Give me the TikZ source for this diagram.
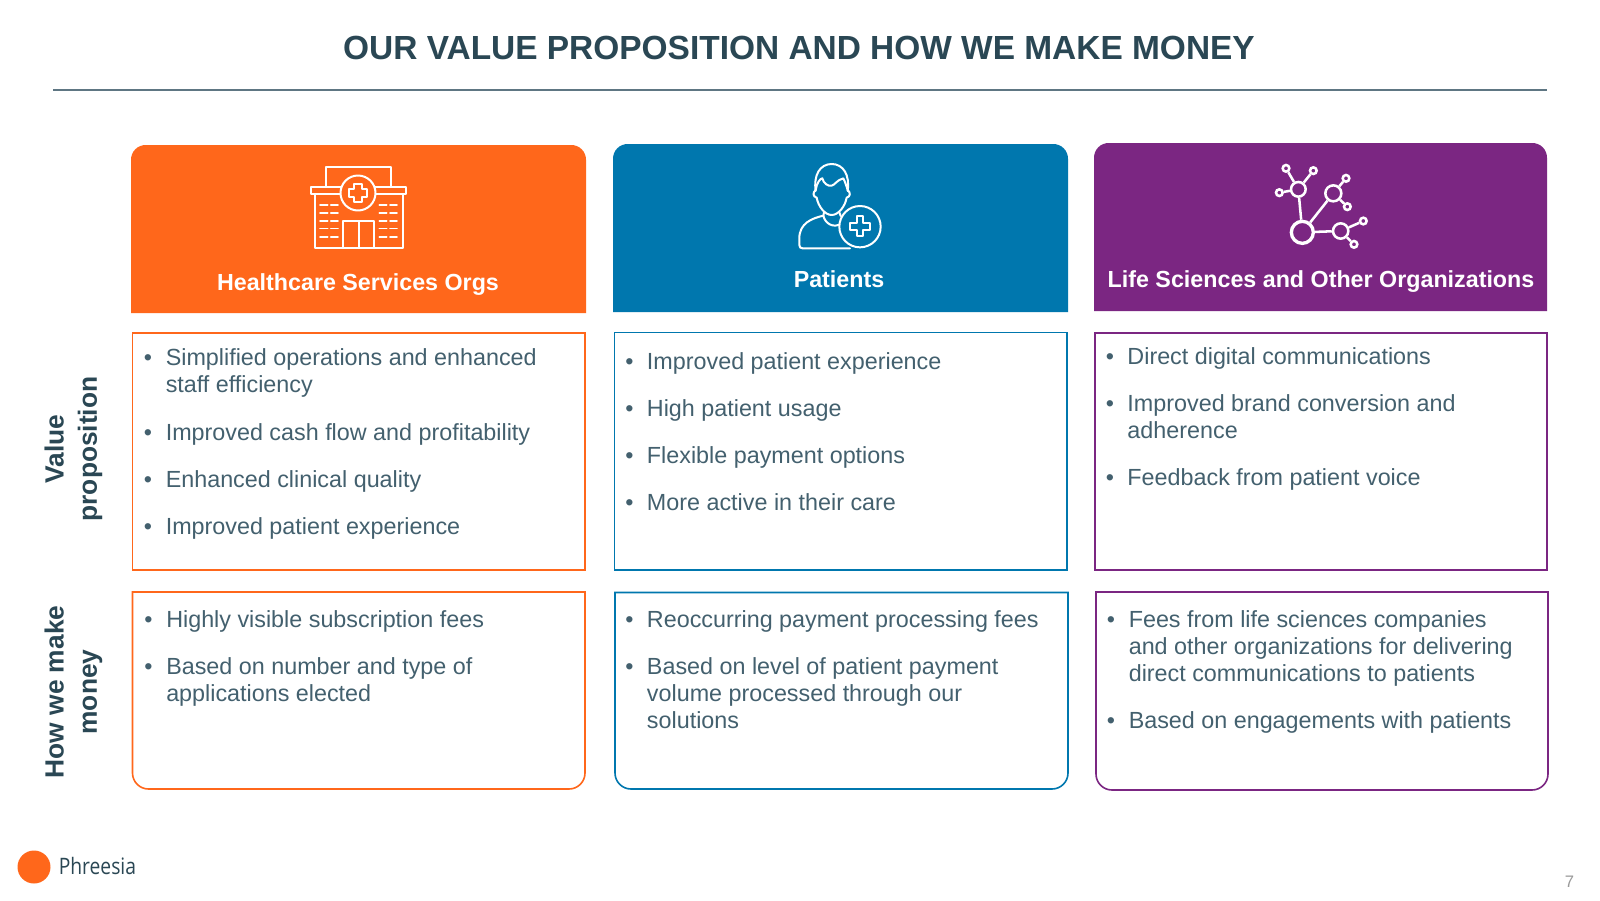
\documentclass[tikz,border=0pt]{standalone}
\usepackage{fontspec}
\setmainfont{Liberation Sans}
\newfontfamily\logofont[FakeStretch=0.85]{Open Sans}
\definecolor{orgc}{HTML}{FF671B}
\definecolor{bluc}{HTML}{0077AE}
\definecolor{purc}{HTML}{7B2682}
\definecolor{txtc}{HTML}{43606E}
\definecolor{ttlc}{HTML}{2A4754}
\definecolor{rulec}{HTML}{5E7683}
\newcommand{\bodyfont}{\fontsize{17.5}{20.25}\selectfont}
\tikzset{
  itemtext/.style={anchor=north west,inner sep=0pt,align=left,text=txtc,font=\bodyfont},
  bulletmark/.style={anchor=north,inner sep=0pt,text=txtc,font=\bodyfont},
  headtext/.style={inner sep=0pt,text=white,font=\fontsize{17.45}{20}\selectfont\bfseries},
  sidetext/.style={inner sep=0pt,rotate=90,align=center,text=ttlc,font=\fontsize{19.75}{25}\selectfont\bfseries},
  panel/.style={line width=1.2pt},
  icon/.style={draw=white,line width=1.5pt,line join=round,line cap=round},
  mol/.style={circle,draw=white,inner sep=0pt,line width=1.9pt},
  bond/.style={draw=white,line width=1.9pt},
}
\newcommand{\entry}[6]{%
  \node[bulletmark] (#1b) at (#2,#4-11) {\strut•};
  \node[itemtext] (#1) at (#3,#4-11) {\strut #5#6};
}
\begin{document}
\begin{tikzpicture}[x=0.75pt,y=-0.75pt]
\useasboundingbox (0,0) rectangle (1600,900);
\fill[white] (0,0) rectangle (1600,900);

\node[inner sep=0pt,text=ttlc,font=\fontsize{25.08}{30}\selectfont\bfseries] (title) at (799,48) {OUR VALUE PROPOSITION AND HOW WE MAKE MONEY};
\coordinate (ruleL) at (53,90);
\coordinate (ruleR) at (1547,90);
\draw[rulec,line width=0.9pt] (ruleL) -- (ruleR);

% headers
\fill[orgc] (131,313) [rounded corners=11pt] -- (131,145) -- (586,145) [sharp corners] -- (586,313) -- cycle;
\fill[bluc] (613,312) [rounded corners=11pt] -- (613,144) -- (1068,144) [sharp corners] -- (1068,312) -- cycle;
\fill[purc] (1094,311) [rounded corners=11pt] -- (1094,143) -- (1547,143) [sharp corners] -- (1547,311) -- cycle;
\node[headtext] (h1) at (358,284.5) {Healthcare Services Orgs};
\node[headtext] (h2) at (839,279.5) {Patients};
\node[headtext] (h3) at (1321,281.5) {Life Sciences and Other Organizations};

% value boxes
\draw[panel,orgc] (132.5,333) rectangle (585,570);
\draw[panel,bluc] (614.5,332.5) rectangle (1067,570);
\draw[panel,purc] (1095,333) rectangle (1547,570);
% money boxes
\draw[panel,orgc] (585,592) -- (132.5,592) [rounded corners=12pt] -- (132.5,789) -- (585,789) [sharp corners] -- cycle;
\draw[panel,bluc] (1068,592.5) -- (615,592.5) [rounded corners=12pt] -- (615,789) -- (1068,789) [sharp corners] -- cycle;
\draw[panel,purc] (1548,592) -- (1096,592) [rounded corners=12pt] -- (1096,790) -- (1548,790) [sharp corners] -- cycle;

% side labels
\node[sidetext] (s1) at (73.5,449) {Value\\proposition};
\node[sidetext] (s2) at (73.5,692) {How we make\\money};

% items
\entry{a1}{148}{165.5}{357}{Simplified operations and enhanced\\}{staff efficiency}
\entry{a2}{148}{165.5}{432.6}{Improved cash flow and profitability}{}
\entry{a3}{148}{165.5}{479.6}{Enhanced clinical quality}{}
\entry{a4}{148}{165.5}{526.5}{Improved patient experience}{}
\entry{b1}{629.5}{646.7}{361.2}{Improved patient experience}{}
\entry{b2}{629.5}{646.7}{408.2}{High patient usage}{}
\entry{b3}{629.5}{646.7}{455.1}{Flexible payment options}{}
\entry{b4}{629.5}{646.7}{502}{More active in their care}{}
\entry{c1}{1110}{1127.2}{356.1}{Direct digital communications}{}
\entry{c2}{1110}{1127.2}{403}{Improved brand conversion and\\}{adherence}
\entry{c3}{1110}{1127.2}{477.5}{Feedback from patient voice}{}
\entry{d1}{148.5}{166}{619.4}{Highly visible subscription fees}{}
\entry{d2}{148.5}{166}{666.3}{Based on number and type of\\}{applications elected}
\entry{e1}{629.5}{646.7}{619.4}{Reoccurring payment processing fees}{}
\entry{e2}{629.5}{646.7}{666.3}{Based on level of patient payment\\volume processed through our\\}{solutions}
\entry{f1}{1111}{1128.5}{619.4}{Fees from life sciences companies\\and other organizations for delivering\\}{direct communications to patients}
\entry{f2}{1111}{1128.5}{720.4}{Based on engagements with patients}{}

% hospital icon
\begin{scope}[icon]
\draw (326,187) -- (326,167) -- (390.7,167) -- (390.7,187);
\draw (311,187) rectangle (406,194);
\draw (315,194) -- (315,248) -- (402.7,248) -- (402.7,194);
\filldraw[fill=orgc] (358,193) circle[radius=17.5];
\draw (353.8,184) -- (362.2,184) -- (362.2,188.8) -- (367.3,188.8) -- (367.3,197.2) -- (362.2,197.2) -- (362.2,202) -- (353.8,202) -- (353.8,197.2) -- (348.7,197.2) -- (348.7,188.8) -- (353.8,188.8) -- cycle;
\draw (343,248) -- (343,221) -- (374,221) -- (374,248);
\draw (358.5,221) -- (358.5,248);
\foreach \wy in {205,212.7,220.7,228.3,236.7}{
  \draw[line width=1.2pt] (320,\wy) -- (327.7,\wy);
  \draw[line width=1.2pt] (330.7,\wy) -- (338,\wy);
  \draw[line width=1.2pt] (379.3,\wy) -- (386.7,\wy);
  \draw[line width=1.2pt] (390,\wy) -- (397,\wy);
}
\end{scope}

% person icon
\begin{scope}[shift={(770,155)},x=0.25pt,y=-0.25pt,icon]
\draw (137,108) .. controls (130,60) and (150,27) .. (185,27) .. controls (220,27) and (240,60) .. (233,108);
\draw (137,105) .. controls (140,85) and (150,70) .. (157,70) .. controls (160,85) and (175,95) .. (185,92) .. controls (195,90) and (200,75) .. (220,70) .. controls (225,80) and (230,95) .. (233,105);
\draw (137,105) .. controls (128,112) and (128,125) .. (140,128) .. controls (145,155) and (165,180) .. (185,180) .. controls (205,180) and (225,155) .. (230,128) .. controls (242,125) and (242,112) .. (233,105);
\draw (162,172) -- (160,182) .. controls (125,190) and (88,205) .. (88,250) -- (88,270) .. controls (88,277) and (92,280) .. (98,280) -- (240,280);
\draw (160,182) .. controls (165,205) and (190,222) .. (215,205);
\draw (208,172) -- (212,183);
\filldraw[fill=bluc] (270,215) circle[radius=62];
\draw (260,184) -- (280,184) -- (280,203) -- (299,203) -- (299,224) -- (280,224) -- (280,243) -- (260,243) -- (260,224) -- (241,224) -- (241,203) -- (260,203) -- cycle;
\end{scope}

% molecule icon
\begin{scope}[shift={(1260,155)},x=0.25pt,y=-0.25pt]
\node[mol,minimum size=16.5pt,line width=2.5pt] (m0) at (127,232) {};
\node[mol,minimum size=11pt] (mA) at (115,103) {};
\node[mol,minimum size=12pt] (mB) at (220,115) {};
\node[mol,minimum size=11.5pt] (mC) at (242,228) {};
\node[mol,minimum size=5pt] (a1s) at (78,40) {};
\node[mol,minimum size=5pt] (a2s) at (160,47) {};
\node[mol,minimum size=5pt] (a3s) at (58,113) {};
\node[mol,minimum size=5pt] (b1s) at (258,70) {};
\node[mol,minimum size=5pt] (b2s) at (262,155) {};
\node[mol,minimum size=5pt] (c1s) at (310,198) {};
\node[mol,minimum size=5pt] (c2s) at (282,268) {};
\end{scope}
\draw[bond] (m0) -- (mA);
\draw[bond] (m0) -- (mB);
\draw[bond] (m0) -- (mC);
\draw[bond] (mA) -- (a1s);
\draw[bond] (mA) -- (a2s);
\draw[bond] (mA) -- (a3s);
\draw[bond] (mB) -- (b1s);
\draw[bond] (mB) -- (b2s);
\draw[bond] (mC) -- (c1s);
\draw[bond] (mC) -- (c2s);

% footer
\fill[orgc] (34,867) circle[radius=16.5];
\node[anchor=west,inner sep=0pt,text=ttlc,font=\logofont\fontsize{17}{20}\selectfont] (logo) at (58.5,866) {Phreesia};
\node[inner sep=0pt,text=gray!80,font=\fontsize{12.5}{14}\selectfont] (pg) at (1569.5,882) {7};
\end{tikzpicture}
\end{document}
